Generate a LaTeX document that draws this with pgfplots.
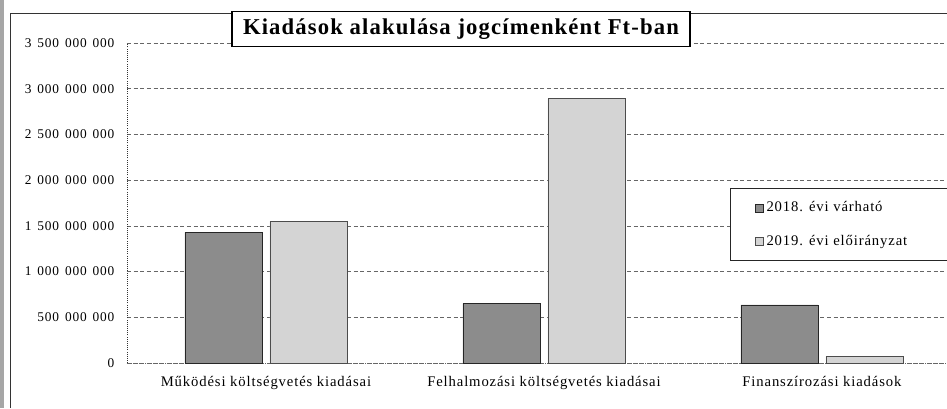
\documentclass[border=0pt]{standalone}
\usepackage{fontspec}
\setmainfont{Liberation Serif}
\newfontfamily\wide[LetterSpace=6]{Liberation Serif}
\newfontfamily\widett[LetterSpace=6]{Liberation Serif}
\usepackage{pgfplots}
\pgfplotsset{compat=1.18}
\definecolor{darkbar}{HTML}{8C8C8C}
\definecolor{lightbar}{HTML}{D4D4D4}
\begin{document}
\begin{tikzpicture}
\useasboundingbox (0,0) rectangle (710.25pt,306pt);
\clip (0,0) rectangle (710.25pt,306pt);
% scan shadow and outer frame
\fill[black!35] (0,0) rectangle (3pt,306pt);
\draw[black!80, line width=0.6pt] (7.5pt,0) -- (7.5pt,296.25pt) -- (720pt,296.25pt);
\begin{axis}[
  at={(95.25pt,33.75pt)}, anchor=south west,
  scale only axis, width=615pt, height=240pt,
  xmin=-0.5, xmax=2.45, ymin=0, ymax=3500000000,
  ybar=6pt, bar width=57.75pt,
  xtick={0,1,2},
  xticklabels={Működési költségvetés kiadásai, Felhalmozási költségvetés kiadásai, Finanszírozási kiadások},
  xtick style={draw=none},
  ytick={0,500000000,1000000000,1500000000,2000000000,2500000000,3000000000,3500000000},
  ytick style={draw=none},
  scaled y ticks=false,
  /pgf/number format/fixed, /pgf/number format/precision=0,
  /pgf/number format/1000 sep={\hspace{4.5pt}},
  /pgf/number format/assume math mode=true,
  yticklabel style={font=\wide\fontsize{10}{12}\selectfont, xshift=-6pt},
  xticklabel style={font=\wide\fontsize{11}{13}\selectfont, yshift=-2pt},
  ymajorgrids,
  grid style={densely dashed, black!60, line width=0.4pt},
  axis x line*=bottom, axis y line*=left,
  x axis line style={densely dotted, black!60, line width=0.5pt, -},
  y axis line style={densely dotted, black!80, line width=0.6pt, -},
  legend style={at={(rel axis cs:0.735,0.547)}, anchor=north west,
    draw=black!85, line width=0.6pt, fill=white,
    font=\widett\fontsize{11}{13}\selectfont,
    inner xsep=19pt, inner ysep=8pt, row sep=12pt},
  legend cell align=left,
  legend image code/.code={\draw[#1, line width=0.3pt] (0pt,-3pt) rectangle (6pt,3pt);},
]
\addplot[fill=darkbar, draw=black!85, line width=0.6pt] coordinates {(0,1430000000) (1,650000000) (2,635000000)};
\addplot[fill=lightbar, draw=black!70, line width=0.6pt] coordinates {(0,1550000000) (1,2890000000) (2,70000000)};
\legend{2018. évi várható, \makebox[150pt][l]{2019. évi előirányzat}}
\end{axis}
\node[draw=black, line width=1pt, fill=white, minimum width=343.5pt, minimum height=26pt,
  font=\bfseries\fontsize{17}{20}\selectfont, inner sep=0pt] at (345.75pt,284.25pt)
  {\addfontfeatures{LetterSpace=5}Kiadások alakulása jogcímenként Ft-ban};
\end{tikzpicture}
\end{document}
